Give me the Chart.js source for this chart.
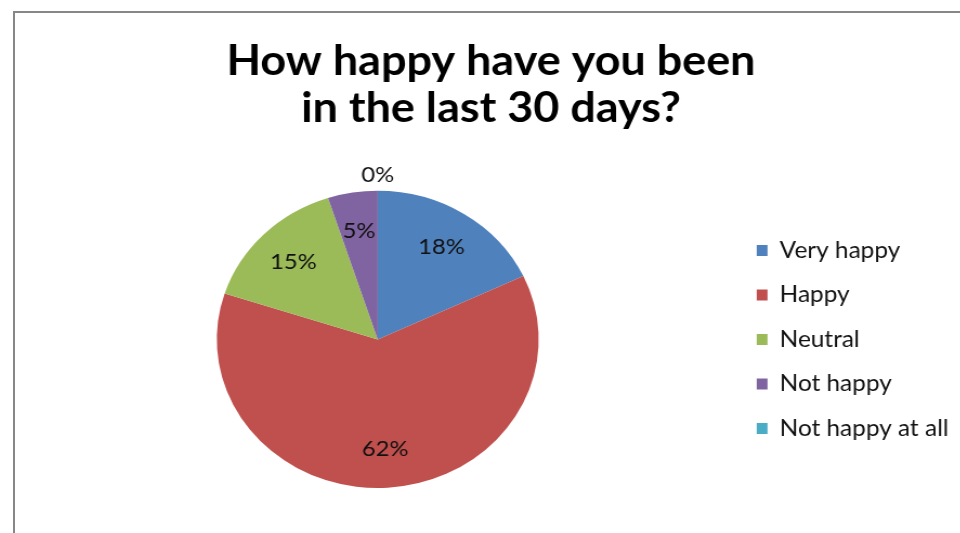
<!DOCTYPE html>
<html>
<head>
<meta charset="utf-8">
<script src="https://cdn.jsdelivr.net/npm/chart.js@4"></script>
<style>
  html, body { margin: 0; padding: 0; background: #fff; width: 960px; height: 533px; overflow: hidden; }
  #frame {
    position: absolute; left: 13px; top: 11px; width: 1000px; height: 600px;
    border-left: 2px solid #878787; border-top: 2px solid #878787;
  }
  #stretch {
    position: absolute; left: 15px; top: 13px;
    transform: scaleX(1.083); transform-origin: 0 0;
  }
</style>
</head>
<body>
<div id="frame"></div>
<div id="stretch"><canvas id="chart" width="886" height="520"></canvas></div>
<script>
// Survey answers and their shares (percent)
const categories = ['Very happy', 'Happy', 'Neutral', 'Not happy', 'Not happy at all'];
const shares = [18, 62, 15, 5, 0];
const sliceColors = ['#4F81BD', '#C0504D', '#9BBB59', '#8064A2', '#4BACC6'];
const titleLines = ['How happy have you been', 'in the last 30 days?'];

const FONT = "Lato, 'Open Sans', sans-serif";

// Percentage labels placed inside each slice (zero-size slices get theirs just outside the rim)
const sliceLabels = {
  id: 'sliceLabels',
  afterDatasetsDraw(chart) {
    const { ctx } = chart;
    const meta = chart.getDatasetMeta(0);
    const values = chart.data.datasets[0].data;
    ctx.save();
    ctx.font = '22px ' + FONT;
    ctx.fillStyle = '#111';
    ctx.textAlign = 'center';
    ctx.textBaseline = 'middle';
    meta.data.forEach((arc, i) => {
      const { x, y, startAngle, endAngle, outerRadius } = arc.getProps(['x', 'y', 'startAngle', 'endAngle', 'outerRadius'], true);
      const mid = (startAngle + endAngle) / 2;
      const r = values[i] === 0 ? outerRadius * 1.11 : outerRadius * 0.74;
      ctx.fillText(values[i] + '%', x + Math.cos(mid) * r, y + Math.sin(mid) * r);
    });
    ctx.restore();
  }
};

new Chart(document.getElementById('chart'), {
  type: 'pie',
  data: {
    labels: categories,
    datasets: [{
      data: shares,
      backgroundColor: sliceColors,
      borderWidth: 0,
      hoverOffset: 0,
      offset: 0
    }]
  },
  plugins: [sliceLabels],
  options: {
    responsive: false,
    animation: false,
    devicePixelRatio: 1,
    layout: { padding: { left: 7, right: 14, top: 0, bottom: 45 } },
    plugins: {
      tooltip: { enabled: false },
      title: {
        display: true,
        text: titleLines,
        color: '#000',
        font: { family: FONT, size: 41.5, weight: 'bold', lineHeight: 1.13 },
        padding: { top: 25, bottom: 59 }
      },
      legend: {
        position: 'right',
        fullSize: false,
        align: 'center',
        labels: {
          color: '#111',
          font: { family: FONT, size: 22.5 },
          boxWidth: 10,
          boxHeight: 11,
          padding: 22
        }
      }
    }
  }
});
</script>
</body>
</html>
